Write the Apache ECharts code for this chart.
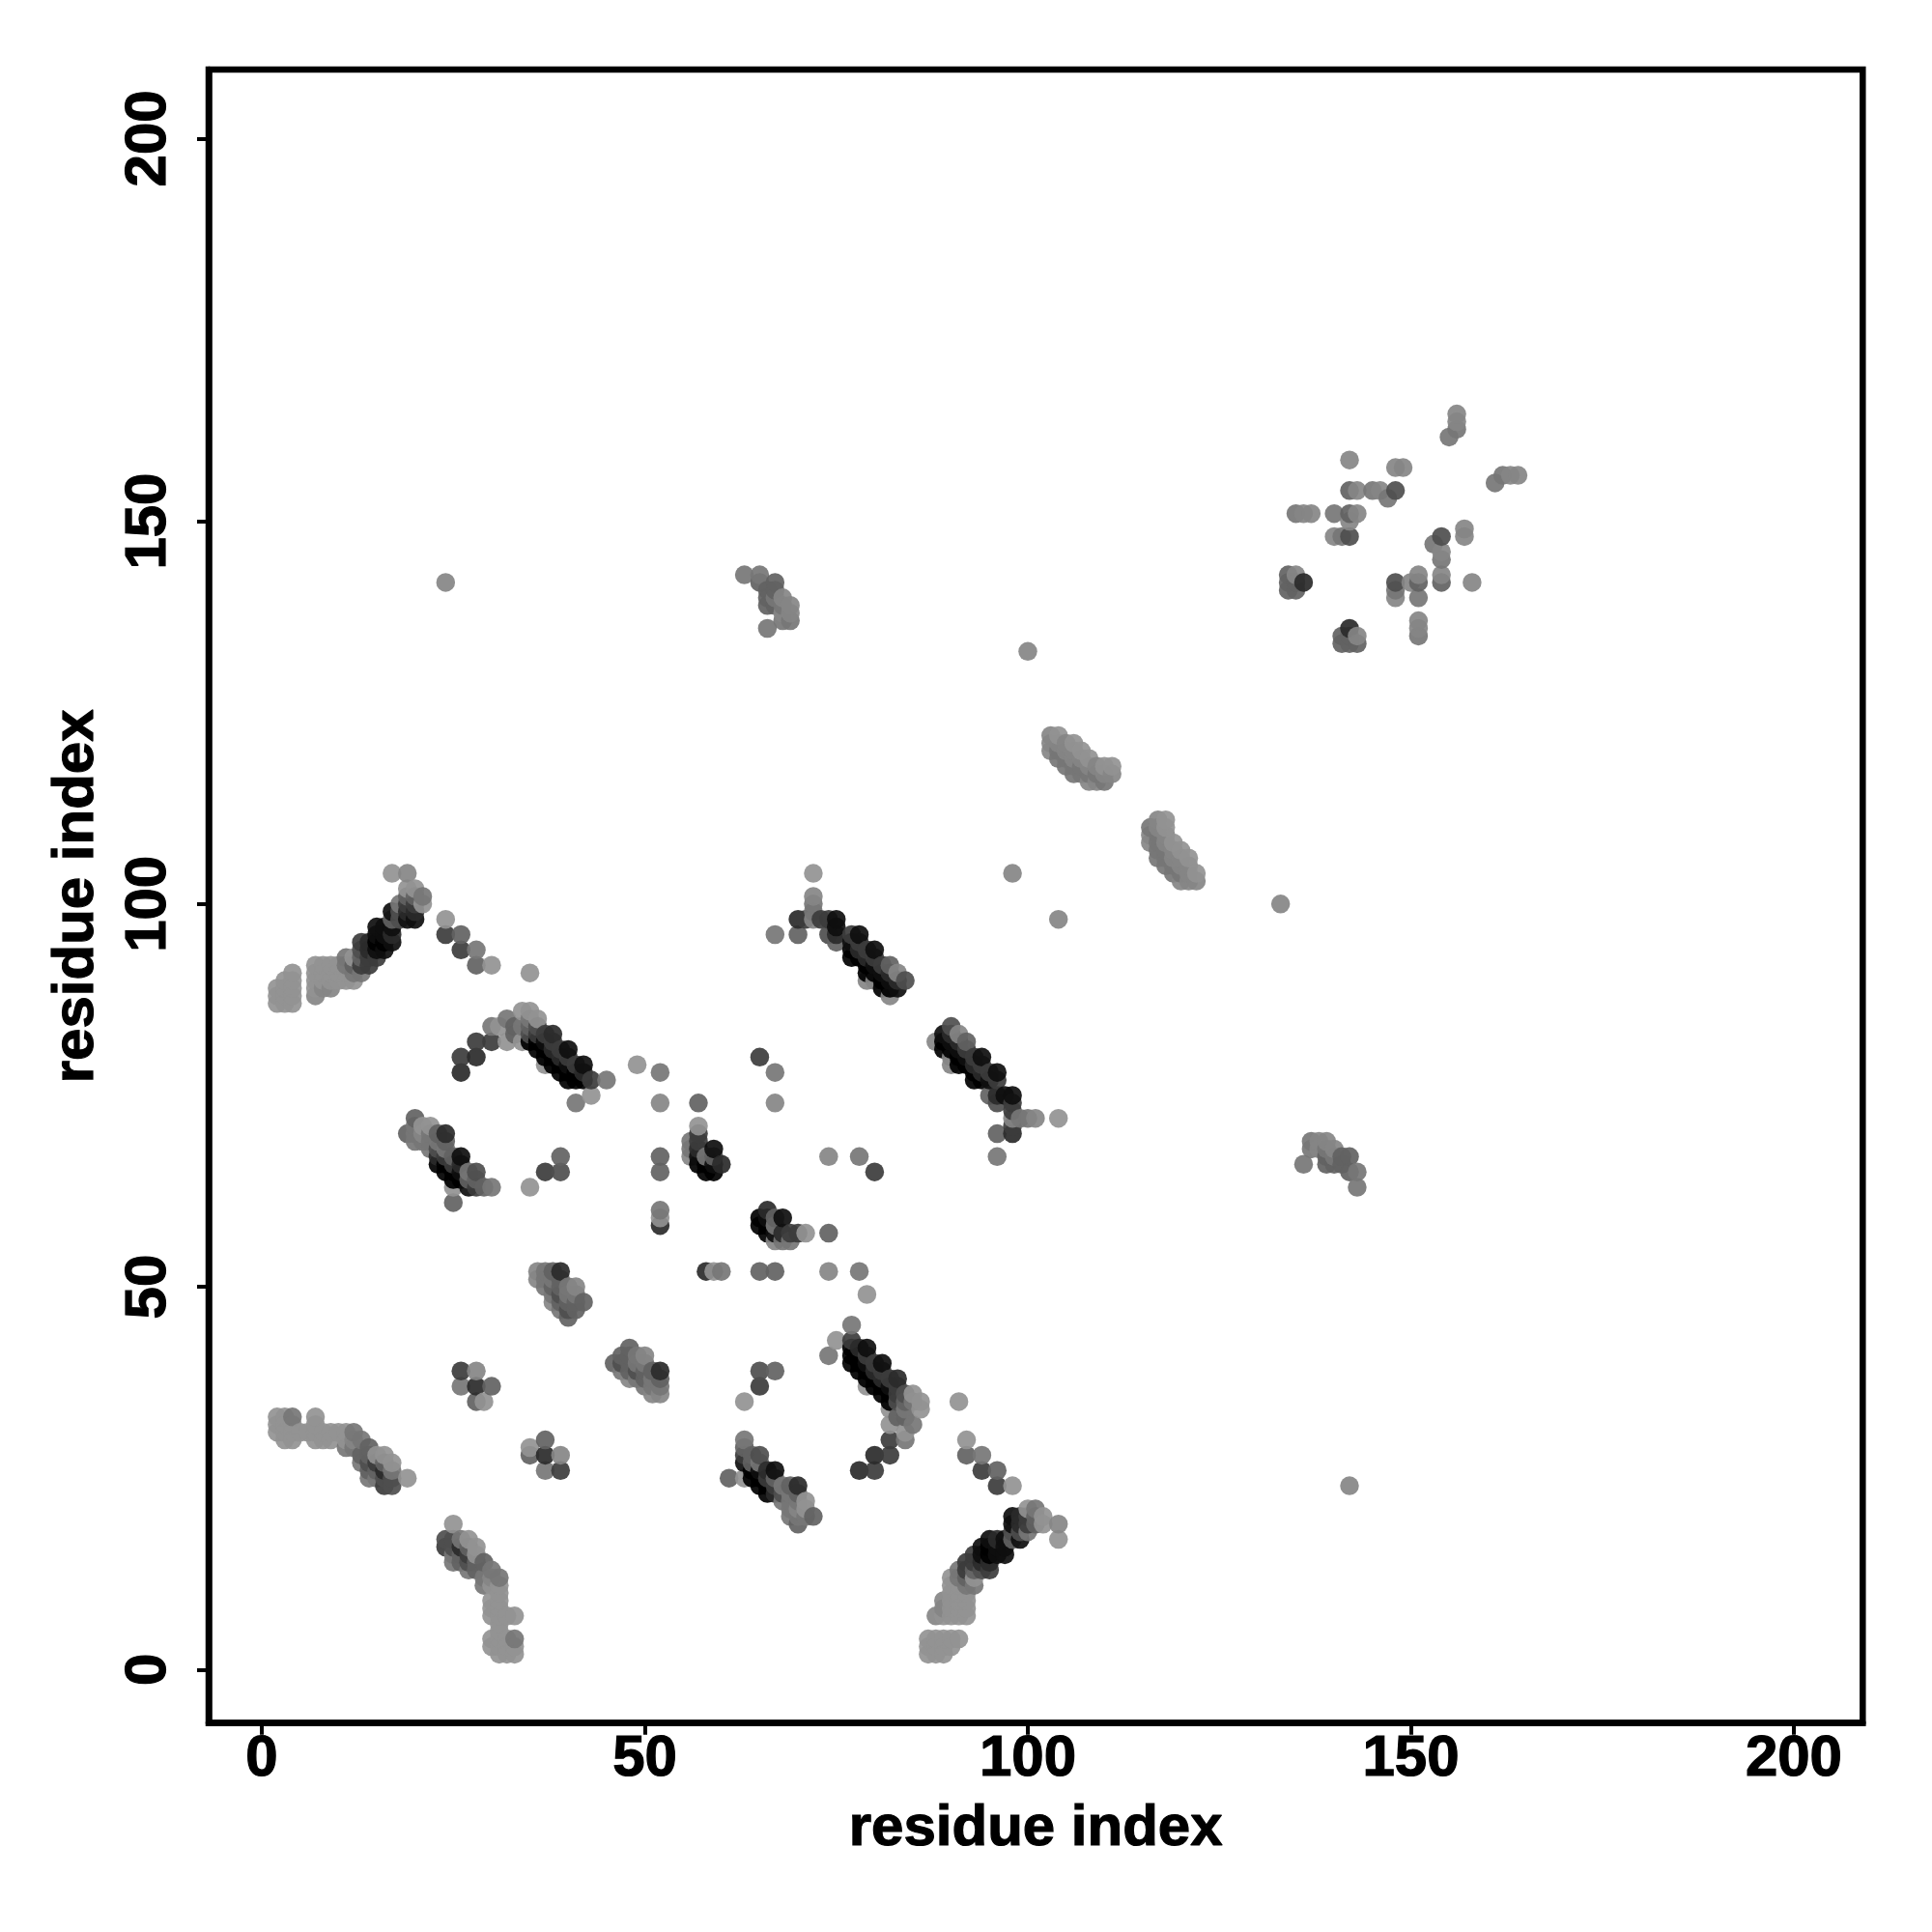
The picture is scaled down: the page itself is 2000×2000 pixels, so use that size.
<!DOCTYPE html>
<html><head><meta charset="utf-8">
<script src="https://cdn.jsdelivr.net/npm/echarts@6/dist/echarts.min.js"></script>
<style>html,body{margin:0;background:#fff}#c{width:2000px;height:2000px}</style></head>
<body><div id="c"></div>
<script>
const tickValues = [0, 50, 100, 150, 200];
const axisTitle = 'residue index';
// colour of each contact strength, lightest to darkest
const shadeLevels = [146, 134, 118, 98, 78, 60, 42, 14, 0];
// residue contacts (i<j); the map is symmetric, each is drawn at (i,j) and (j,i)
const shade0 = [[2,87],[2,88],[2,89],[3,87],[3,88],[3,89],[3,90],[4,87],[4,88],[4,89],[4,90],[4,91],[7,89],[7,90],[7,91],[7,92],[8,90],[8,91],[8,92],[9,90],[9,91],[9,92],[10,90],[10,91],[10,92],[11,90],[11,91],[12,90],[12,93],[17,104],[19,102],[20,102],[21,100],[24,98],[30,92],[35,91],
[2,31],[2,32],[2,33],[3,30],[3,31],[3,32],[3,33],[4,30],[4,31],[4,32],[5,31],[6,31],[7,30],[7,31],[7,32],[7,33],[8,30],[8,31],[9,30],[9,31],[10,31],[11,30],[11,31],[15,28],[16,28],[17,27],[19,25],
[31,84],[32,82],[34,86],[35,86],[36,85],[34,82],[37,79],[43,75],[49,79],[52,59],[21,71],[22,71],[25,63],[35,63],[57,71],[72,104],[29,35],
[104,122],[106,121],[107,120],[108,119],[110,118],[111,118]];
const shade1 = [[7,88],[8,89],[9,89],[19,104],[21,70],[52,74],[56,67],[67,74],[28,39],[72,98],[72,101],[82,88],[83,91],[79,90],[80,90],[12,30],[36,51],[36,52],[38,48],[41,50],[24,142],[100,133],[98,104],
[103,120],[103,121],[103,122],[104,121],[105,120],[105,121],[106,119],[106,120],[107,119],[108,116],[108,118],[109,116],[109,118],[110,117],[111,117],
[68,138],[69,138],[69,139],[68,140],
[156,163],[156,164],[142,158],[148,157],[149,157],[143,154],[146,154],[136,151],[137,151],[143,151],[142,150],[140,148],[141,148],[157,149],[148,157],[154,146],[143,154],[151,143],[150,142],[158,142],[148,140],[151,140],[151,137],[151,136],[143,135]];
const shade2 = [[21,101],[12,91],[11,92],[11,93],[13,91],[13,27],[13,30],[28,94],[30,84],[32,85],[34,84],[35,85],[41,74],[45,77],[52,78],[52,60],[20,71],[20,70],[20,69],[21,69],[22,70],[22,69],[22,68],[23,69],[24,68],[27,65],[30,63],[56,68],[56,69],[58,67],[67,78],[67,96],[72,99],[72,100],[18,100],[26,37],[11,29],[12,29],[12,31],[4,33],[14,25],[15,25],[17,26],[37,50],[37,51],[37,52],[38,49],[38,51],[39,47],[40,49],[40,50],[41,49],
[104,119],[104,120],[105,118],[105,119],[106,117],[106,118],[107,117],[107,118],[108,117],[109,117],[110,116],
[66,136],[63,143],[65,143],[68,137],[68,139],[69,137],[67,140],
[155,161],[156,162],[135,151],[140,151],[145,154],[147,153],[153,147],[154,145],[148,141],[141,135],[135,142]];
const shade3 = [[12,92],[13,93],[17,98],[19,101],[20,101],[26,96],[28,92],[33,84],[33,83],[35,84],[19,70],[20,72],[23,70],[24,69],[25,67],[25,61],[27,64],[28,64],[29,63],[39,67],[52,67],[52,65],[57,74],[70,96],[75,95],[82,92],[30,37],[28,35],[14,26],[13,28],[14,28],[14,29],[15,26],[16,27],[38,50],[38,52],[39,48],[39,50],[39,51],[40,46],[40,48],[41,47],[41,48],[42,48],[57,67],[59,67],
[65,142],[66,139],[66,140],[66,141],[67,139],[67,141],[67,142],
[142,154],[142,151],[134,143],[154,142],[151,142],[134,142],[135,141],[134,141],[141,134],[142,134],[143,134],[142,135]];
const shade4 = [[13,94],[16,25],[17,24],[17,25],[18,98],[18,99],[23,68],[28,65],[35,83],[36,84],[39,65],[39,49],[40,47],[14,27],[74,96],[84,90],
[148,154],[148,142],[142,148],[154,148]];
const shade5 = [[13,92],[13,95],[14,92],[14,93],[15,93],[19,100],[20,100],[24,96],[26,94],[26,80],[28,82],[30,82],[36,83],[37,83],[38,82],[39,81],[40,80],[41,79],[43,77],[24,67],[25,66],[28,63],[37,65],[57,69],[57,70],[65,80],[71,98],[73,98],[74,98],[26,39],[15,27],[16,24],[77,96],[78,95],[79,94],[80,93],[81,92]];
const shade6 = [[14,94],[14,95],[17,96],[19,99],[20,99],[26,78],[28,80],[38,81],[38,83],[39,80],[42,78],[23,67],[24,70],[26,66],[39,52],[52,58],[57,68],[60,66],[70,98],[75,96],[28,37],[16,26],[78,94],[79,93],[82,91],[83,90],
[136,142],[142,136]];
const shade7 = [[15,94],[15,96],[15,97],[16,94],[16,96],[16,97],[17,95],[17,97],[17,99],[19,98],[20,98],[37,82],[40,79],[40,81],[42,79],[26,67],[26,65],[27,63],[57,67],[59,66],[59,68],[75,97],[75,98],[77,95],[78,96],[80,92],[80,94],[81,91],[82,90],[83,89]];
const shade8 = [[15,95],[16,95],[35,82],[36,81],[36,82],[37,80],[37,81],[38,79],[38,80],[39,78],[39,79],[40,77],[40,78],[41,77],[41,78],[42,77],[23,66],[24,66],[24,65],[25,65],[25,64],[26,64],[57,66],[58,65],[58,66],[59,65],[77,93],[77,94],[78,93],[79,91],[79,92],[80,91],[81,89],[81,90],[82,89]];

const groups = [shade0, shade1, shade2, shade3, shade4, shade5, shade6, shade7, shade8];
const seen = {};
groups.forEach((g, level) => g.forEach(([i, j]) => {
  seen[i + ',' + j] = [i, j, level];
  seen[j + ',' + i] = [j, i, level];
}));
const points = Object.values(seen).sort((a, b) => a[0] - b[0] || a[1] - b[1]);

const labelFont = {fontFamily: 'Liberation Sans', fontWeight: 'bold', fontSize: 60, color: '#000', textBorderColor: '#000', textBorderWidth: 1.2};
const edge = {color: '#000', width: 6.5};
const tickStyle = {show: true, customValues: tickValues, length: 12, inside: false, lineStyle: {color: '#000', width: 4}};
const chart = echarts.init(document.getElementById('c'), null, {renderer: 'canvas'});
chart.setOption({
  animation: false,
  backgroundColor: '#fff',
  grid: {left: 216, right: 71.7, top: 72, bottom: 216.3, show: true, borderColor: '#000', borderWidth: 6.5, backgroundColor: 'transparent'},
  xAxis: {type: 'value', min: -6.94, max: 209, position: 'bottom', splitLine: {show: false},
    axisLine: {show: true, onZero: false, lineStyle: edge},
    axisTick: tickStyle,
    axisLabel: {...labelFont, customValues: tickValues, margin: 8, formatter: v => String(v)},
    name: axisTitle, nameLocation: 'middle', nameGap: 80, nameTextStyle: labelFont},
  yAxis: {type: 'value', min: -6.99, max: 209, position: 'left', splitLine: {show: false},
    axisLine: {show: true, onZero: false, lineStyle: edge},
    axisTick: tickStyle,
    axisLabel: {...labelFont, customValues: tickValues, rotate: 90, margin: 32, formatter: v => String(v)},
    name: axisTitle, nameLocation: 'middle', nameRotate: 90, nameGap: 107, nameTextStyle: labelFont},
  series: [{
    type: 'scatter', symbol: 'circle', symbolSize: 19.5, clip: false,
    data: points,
    itemStyle: {opacity: 0.92, color: p => { const c = shadeLevels[p.value[2]]; return `rgb(${c},${c},${c})`; }},
    emphasis: {disabled: true}
  }]
});
</script></body></html>
